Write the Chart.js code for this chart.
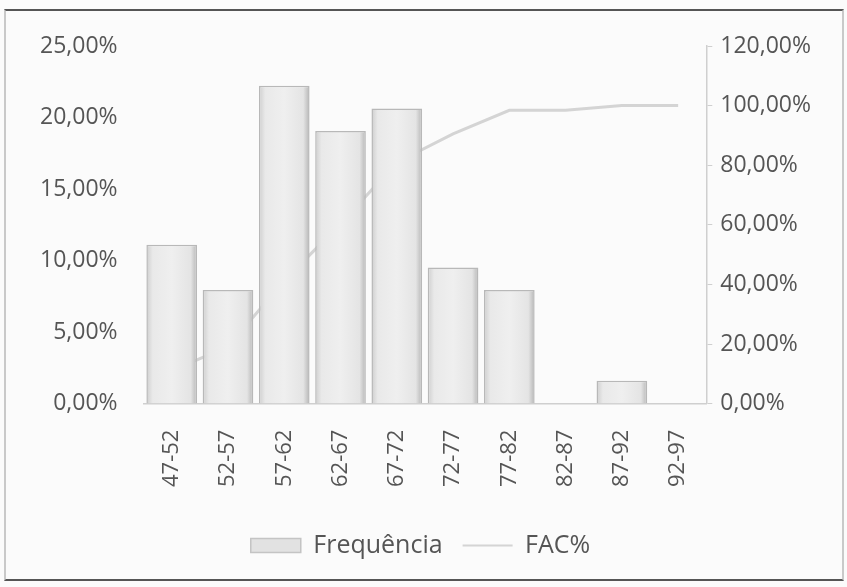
<!DOCTYPE html>
<html>
<head>
<meta charset="utf-8">
<script src="https://cdn.jsdelivr.net/npm/chart.js@4/dist/chart.umd.min.js"></script>
<style>
  html, body { margin: 0; padding: 0; background: #fbfbfb; }
  #wrap { position: relative; width: 847px; height: 587px; }
  #frame { position: absolute; left: 4px; top: 9px; width: 836px; height: 568px;
           border: 2px solid #c9c9c9; border-top-color: #555; border-bottom-color: #555; }
  #c { position: absolute; left: 0; top: 0; }
</style>
</head>
<body>
<div id="wrap">
  <div id="frame"></div>
  <canvas id="c" width="847" height="587"></canvas>
</div>
<script>
const classes = ['47-52', '52-57', '57-62', '62-67', '67-72', '72-77', '77-82', '82-87', '87-92', '92-97'];
const frequencia = [11.11, 7.94, 22.22, 19.05, 20.63, 9.52, 7.94, 0, 1.59, 0];
const facPct = [11.11, 19.05, 41.27, 60.32, 80.95, 90.48, 98.41, 98.41, 100, 100];

const fmt = v => v.toFixed(2).replace('.', ',') + '%';

const ctx = document.querySelector('#c').getContext('2d');

// soft horizontal shading across each bar, like the Excel bevel
function barFill(context) {
    const chart = context.chart;
    const x = chart.scales.x;
    if (!x || context.dataIndex === undefined) return '#e4e4e4';
    const cx = x.getPixelForValue(context.dataIndex);
    if (!isFinite(cx)) return '#e4e4e4';
    const half = 25;
    const g = chart.ctx.createLinearGradient(cx - half, 0, cx + half, 0);
    g.addColorStop(0, '#cfcfcf');
    g.addColorStop(0.12, '#e9e9e9');
    g.addColorStop(0.5, '#efefef');
    g.addColorStop(0.88, '#e4e4e4');
    g.addColorStop(1, '#b8b8b8');
    return g;
}

new Chart(ctx, {
    type: 'bar',
    data: {
        labels: classes,
        datasets: [
            {
                label: 'Frequência',
                data: frequencia,
                backgroundColor: barFill,
                borderColor: '#b8b8b8',
                borderWidth: 1.5,
                barPercentage: 0.9,
                categoryPercentage: 1.0,
                yAxisID: 'y',
                order: 1,
                pointStyle: 'rect'
            },
            {
                type: 'line',
                label: 'FAC%',
                data: facPct,
                borderColor: '#d4d4d4',
                backgroundColor: '#d4d4d4',
                borderWidth: 3,
                pointRadius: 0,
                tension: 0,
                yAxisID: 'y1',
                order: 2,
                pointStyle: 'line'
            }
        ]
    },
    options: {
        responsive: false,
        animation: false,
        layout: { padding: { left: 22, right: 28, top: 46, bottom: 19 } },
        scales: {
            x: {
                ticks: {
                    color: '#555',
                    font: { family: 'Open Sans', size: 22 },
                    minRotation: 90,
                    maxRotation: 90,
                    padding: 26
                },
                grid: { display: true, drawOnChartArea: false, drawTicks: false },
                border: { color: '#cfcfcf', width: 1.5 }
            },
            y: {
                position: 'left',
                min: 0,
                max: 25,
                ticks: {
                    stepSize: 5,
                    color: '#555',
                    font: { family: 'Open Sans', size: 23 },
                    padding: 18,
                    callback: v => fmt(v)
                },
                grid: { display: false },
                border: { display: false }
            },
            y1: {
                position: 'right',
                min: 0,
                max: 120,
                ticks: {
                    stepSize: 20,
                    color: '#555',
                    font: { family: 'Open Sans', size: 23 },
                    padding: 8,
                    callback: v => fmt(v)
                },
                grid: { drawOnChartArea: false, drawTicks: true, tickLength: 6, color: '#cfcfcf' },
                border: { color: '#cfcfcf', width: 1.5 }
            }
        },
        plugins: {
            legend: {
                position: 'bottom',
                labels: {
                    color: '#555',
                    font: { family: 'Open Sans', size: 25 },
                    usePointStyle: true,
                    pointStyleWidth: 50,
                    boxHeight: 14,
                    padding: 20,
                    generateLabels: chart => {
                        const items = Chart.defaults.plugins.legend.labels.generateLabels(chart);
                        items[0].fillStyle = '#e2e2e2';
                        items[0].strokeStyle = '#c4c4c4';
                        items[1].lineWidth = 2;
                        return items;
                    }
                }
            },
            tooltip: { enabled: false }
        }
    }
});
</script>
</body>
</html>
